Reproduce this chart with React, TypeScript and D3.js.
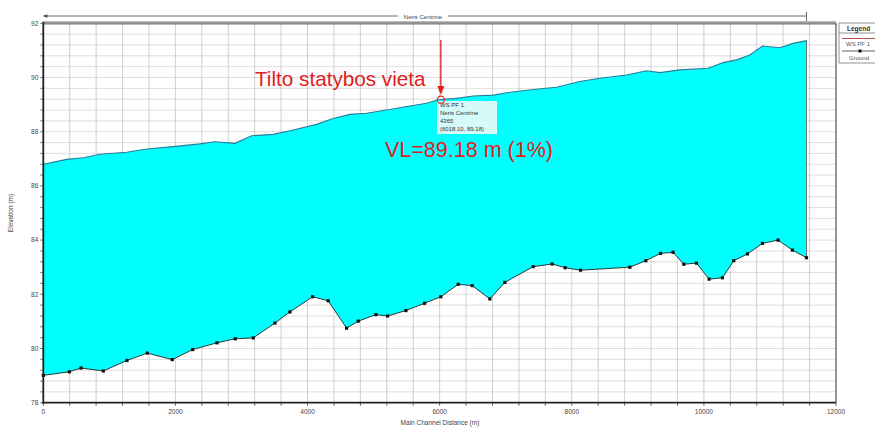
import React from "react";
import * as d3 from "d3";

const wsX = [0, 354, 605, 858, 1262, 1565, 1967, 2371, 2598, 2901, 3153, 3480, 3783, 4137, 4389, 4641, 4893, 5196, 5549, 5802, 5978, 6256, 6507, 6810, 7012, 7415, 7769, 8122, 8425, 8829, 9131, 9333, 9636, 10064, 10291, 10493, 10695, 10887, 11149, 11351, 11553];
const wsY = [86.8, 86.98, 87.04, 87.17, 87.24, 87.36, 87.45, 87.55, 87.63, 87.57, 87.85, 87.9, 88.06, 88.27, 88.49, 88.64, 88.68, 88.8, 88.95, 89.05, 89.18, 89.23, 89.32, 89.35, 89.44, 89.56, 89.64, 89.85, 89.97, 90.09, 90.25, 90.18, 90.28, 90.34, 90.55, 90.65, 90.83, 91.16, 91.1, 91.26, 91.36];

const groundX = [0, 394, 571, 908, 1267, 1574, 1952, 2261, 2629, 2906, 3178, 3507, 3733, 4077, 4313, 4591, 4768, 5035, 5212, 5489, 5772, 6018, 6281, 6493, 6760, 6987, 7416, 7703, 7900, 8133, 8879, 9121, 9343, 9534, 9696, 9888, 10079, 10281, 10452, 10660, 10887, 11123, 11341, 11553];
const groundY = [79.01, 79.14, 79.28, 79.17, 79.56, 79.83, 79.59, 79.96, 80.21, 80.36, 80.39, 80.94, 81.35, 81.91, 81.76, 80.75, 81.01, 81.25, 81.2, 81.4, 81.67, 81.91, 82.37, 82.32, 81.83, 82.44, 83.02, 83.12, 82.98, 82.89, 83.0, 83.24, 83.51, 83.55, 83.11, 83.15, 82.56, 82.61, 83.24, 83.49, 83.88, 84.0, 83.63, 83.35];

const xTicks = [0, 2000, 4000, 6000, 8000, 10000, 12000];
const yTicks = [78, 80, 82, 84, 86, 88, 90, 92];
const tooltipLines = ["WS  PF 1", "Neris Centrine", "4365", "(6018.10, 89.18)"];

export default function App() {
  const x = d3.scaleLinear().domain([0, 12000]).range([43.3, 836]);
  const y = d3.scaleLinear().domain([78, 92]).range([402.7, 23.3]);

  const ws = wsX.map((v, i) => [v, wsY[i]] as [number, number]);
  const gr = groundX.map((v, i) => [v, groundY[i]] as [number, number]);
  const line = d3.line<[number, number]>().x((d) => x(d[0])).y((d) => y(d[1]));
  const fillPts = [...ws, ...gr.slice().reverse()];
  const fillPath = line(fillPts) + "Z";

  const vGrid = d3.range(0, 12001, 400);
  const hGrid = d3.range(0, 36).map((i) => 78 + i * 0.4);

  const font = "'Liberation Sans', Arial, sans-serif";
  const tipX = x(6018);
  const tipY = y(89.18);

  return (
    <svg width={875} height={429} style={{ position: "absolute", left: 0, top: 0, background: "#fff" }} fontFamily={font}>
      <rect x={0} y={0} width={875} height={429} fill="#fff" />
      {/* grid */}
      {hGrid.map((v) => (
        <line key={"h" + v} x1={x(0)} x2={x(12000)} y1={y(v)} y2={y(v)} stroke="#d6d6d6" strokeWidth={0.8} />
      ))}
      {vGrid.map((v) => (
        <line key={"v" + v} x1={x(v)} x2={x(v)} y1={y(78)} y2={y(92)} stroke="#c4c4c4" strokeWidth={0.8} />
      ))}
      {/* fill */}
      <path d={fillPath} fill="#00ffff" stroke="none" />
      <line x1={x(11553)} x2={x(11553)} y1={y(91.36)} y2={y(83.35)} stroke="#555" strokeWidth={0.8} />
      <path d={line(ws) || ""} fill="none" stroke="#2b7c99" strokeWidth={1.1} />
      <path d={line(gr) || ""} fill="none" stroke="#222" strokeWidth={0.9} />
      {gr.map((d, i) => (
        <rect key={"g" + i} x={x(d[0]) - 1.6} y={y(d[1]) - 1.6} width={3.2} height={3.2} fill="#111" />
      ))}
      {/* frame */}
      <line x1={x(12000)} x2={x(12000)} y1={y(92)} y2={y(78)} stroke="#444" strokeWidth={1} />
      <line x1={x(0)} x2={x(12000)} y1={y(92) - 1.2} y2={y(92) - 1.2} stroke="#444" strokeWidth={0.9} />
      <line x1={x(0)} x2={x(12000)} y1={y(92) + 0.6} y2={y(92) + 0.6} stroke="#444" strokeWidth={0.9} />
      <line x1={x(0)} x2={x(0)} y1={y(92) - 1.5} y2={y(78) + 1} stroke="#222" strokeWidth={1.8} />
      <line x1={x(0) - 1} x2={x(12000)} y1={y(78)} y2={y(78)} stroke="#222" strokeWidth={1.8} />
      {/* ticks */}
      {vGrid.map((v) => (
        <line key={"tx" + v} x1={x(v)} x2={x(v)} y1={y(78)} y2={y(78) + 3} stroke="#333" strokeWidth={0.8} />
      ))}
      {hGrid.map((v) => (
        <line key={"ty" + v} x1={x(0) - 3} x2={x(0)} y1={y(v)} y2={y(v)} stroke="#333" strokeWidth={0.7} />
      ))}
      {xTicks.map((v) => (
        <text key={"xl" + v} x={x(v)} y={y(78) + 11} fontSize={6.5} fill="#444" textAnchor="middle">{v}</text>
      ))}
      {yTicks.map((v) => (
        <text key={"yl" + v} x={x(0) - 5} y={y(v) + 2.3} fontSize={6.5} fill="#444" textAnchor="end">{v}</text>
      ))}
      <text x={440} y={425} fontSize={6.5} fill="#444" textAnchor="middle">Main Channel Distance (m)</text>
      <text transform={`translate(13,${y(85)}) rotate(-90)`} fontSize={6.5} fill="#444" textAnchor="middle">Elevation (m)</text>
      {/* reach line */}
      <line x1={x(0)} x2={x(11553)} y1={16} y2={16} stroke="#444" strokeWidth={0.8} />
      <path d={`M${x(0)},16 l4,-1.8 l0,3.6 Z`} fill="#444" />
      <line x1={x(11553)} x2={x(11553)} y1={12} y2={21} stroke="#444" strokeWidth={0.8} />
      <rect x={398} y={12} width={50} height={8} fill="#fff" />
      <text x={423} y={18.5} fontSize={6} fill="#444" textAnchor="middle">Neris Centrine</text>
      {/* legend */}
      <rect x={839} y={23} width={45} height={40} fill="#fff" stroke="#777" strokeWidth={0.8} />
      <line x1={839} x2={884} y1={33} y2={33} stroke="#777" strokeWidth={0.8} />
      <text x={847} y={30.5} fontSize={6.5} fontWeight="bold" fill="#333">Legend</text>
      <line x1={842} x2={884} y1={38.5} y2={38.5} stroke="#c05050" strokeWidth={1} />
      <text x={846} y={45.5} fontSize={6} fill="#555">WS  PF 1</text>
      <line x1={842} x2={884} y1={51} y2={51} stroke="#333" strokeWidth={0.8} />
      <rect x={858.5} y={49.5} width={3} height={3} fill="#111" />
      <text x={849} y={59.5} fontSize={6} fill="#555">Ground</text>
      {/* annotation */}
      <rect x={437} y={101} width={60} height={33} fill="#d4fafa" />
      {tooltipLines.map((t, i) => (
        <text key={"tt" + i} x={440} y={106.5 + i * 8.3} fontSize={6} fill="#333">{t}</text>
      ))}
      <circle cx={tipX} cy={tipY} r={3.6} fill="none" stroke="#e02020" strokeWidth={1.1} />
      <line x1={tipX} x2={tipX} y1={40} y2={88} stroke="#e02020" strokeWidth={1.3} />
      <path d={`M${tipX - 3.5},86 L${tipX + 3.5},86 L${tipX},95 Z`} fill="#e02020" />
      <text x={255} y={86} fontSize={20.7} fill="#e02020">Tilto statybos vieta</text>
      <text x={385} y={157} fontSize={21.5} fill="#e02020">VL=89.18 m (1%)</text>
    </svg>
  );
}
